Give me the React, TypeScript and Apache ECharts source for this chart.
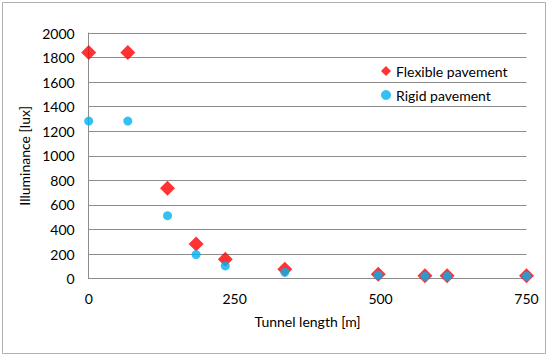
import React, { useEffect, useRef } from "react";
import * as echarts from "echarts";

const tunnelLength = [0, 67, 135, 184, 234, 336, 496, 576, 614, 750];
const flexible = [1842, 1842, 737, 283, 158, 76, 36, 25, 25, 25];
const rigid = [1283, 1283, 513, 196, 104, 52, 30, 20, 20, 20];
const seriesNames = ["Flexible pavement", "Rigid pavement"];
const xAxisTitle = "Tunnel length [m]";
const yAxisTitle = "Illuminance [lux]";

const FONT = "Lato, 'Open Sans', sans-serif";

export default function App() {
  const ref = useRef<HTMLDivElement>(null);
  useEffect(() => {
    if (!ref.current) return;
    const chart = echarts.init(ref.current, undefined, { renderer: "svg" });
    chart.setOption({
      animation: false,
      backgroundColor: "#ffffff",
      textStyle: { fontFamily: FONT },
      graphic: [
        {
          type: "rect",
          shape: { x: 2.5, y: 2.5, width: 543, height: 351 },
          style: { fill: "none", stroke: "#b0b0b0", lineWidth: 1 },
          silent: true,
        },
      ],
      grid: { left: 88.7, right: 23.5, top: 33, bottom: 77.3, containLabel: false },
      legend: {
        orient: "vertical",
        left: 376,
        top: 59,
        itemWidth: 10,
        itemHeight: 10,
        itemGap: 10,
        textStyle: { fontSize: 14, color: "#000", fontFamily: FONT },
        data: [
          { name: seriesNames[0], icon: "diamond" },
          { name: seriesNames[1], icon: "circle" },
        ],
      },
      xAxis: {
        type: "value",
        min: 0,
        max: 750,
        interval: 250,
        name: xAxisTitle,
        nameLocation: "middle",
        nameGap: 36,
        nameTextStyle: { fontSize: 14, color: "#000", fontFamily: FONT },
        axisLine: { show: false },
        axisTick: { show: false },
        splitLine: { show: false },
        axisLabel: { fontSize: 14, color: "#000", margin: 13, fontFamily: FONT },
      },
      yAxis: {
        type: "value",
        min: 0,
        max: 2000,
        interval: 200,
        name: yAxisTitle,
        nameLocation: "middle",
        nameGap: 41,
        nameRotate: 90,
        nameTextStyle: { fontSize: 14, color: "#000", fontFamily: FONT },
        axisLine: { show: true, lineStyle: { color: "#8c8c8c", width: 1 } },
        axisTick: { show: false },
        splitLine: { show: true, lineStyle: { color: "#8c8c8c", width: 1 } },
        axisLabel: {
          fontSize: 14,
          color: "#000",
          margin: 14,
          fontFamily: FONT,
          formatter: (v: number) => String(v),
        },
      },
      series: [
        {
          name: seriesNames[0],
          type: "scatter",
          symbol: "diamond",
          symbolSize: 15,
          itemStyle: { color: "#ff0000" },
          data: tunnelLength.map((x, i) => [x, flexible[i]]),
          z: 2,
        },
        {
          name: seriesNames[1],
          type: "scatter",
          symbol: "circle",
          symbolSize: 9,
          itemStyle: { color: "#00b0f0" },
          data: tunnelLength.map((x, i) => [x, rigid[i]]),
          z: 3,
        },
      ],
    });
    return () => chart.dispose();
  }, []);
  return (
    <div
      ref={ref}
      style={{ position: "fixed", left: 0, top: 0, width: 550, height: 356 }}
    />
  );
}
